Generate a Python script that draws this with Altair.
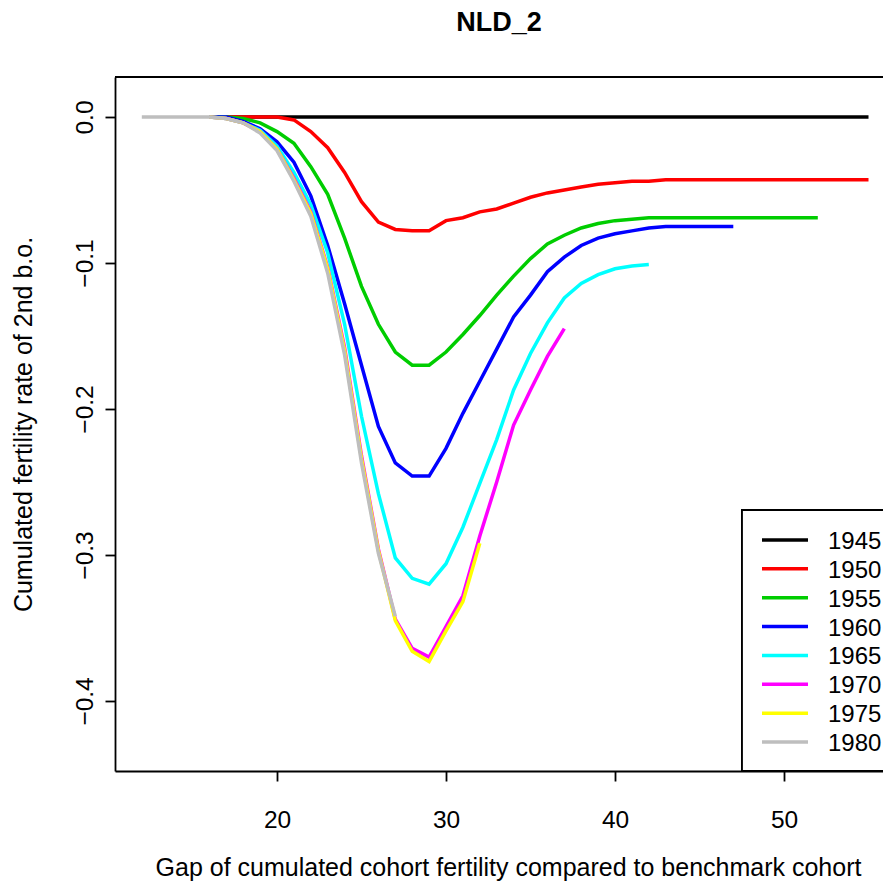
import altair as alt
import pandas as pd

FONT = "Liberation Sans"

cohorts = ["1945", "1950", "1955", "1960", "1965", "1970", "1975", "1980"]
colors = ["#000000", "#FF0000", "#00CD00", "#0000FF", "#00FFFF", "#FF00FF", "#FFFF00", "#BEBEBE"]

ages_1945 = list(range(17, 56))
vals_1945 = [0.0] * 39

ages_1950 = list(range(17, 56))
vals_1950 = [0.0, 0.0, 0.0, 0.0, -0.002, -0.010, -0.021, -0.038, -0.058, -0.072,
             -0.077, -0.078, -0.078, -0.071, -0.069, -0.065, -0.063, -0.059, -0.055, -0.052,
             -0.050, -0.048, -0.046, -0.045, -0.044, -0.044,
             -0.043, -0.043, -0.043, -0.043, -0.043, -0.043, -0.043, -0.043, -0.043, -0.043,
             -0.043, -0.043, -0.043]

ages_1955 = list(range(16, 53))
vals_1955 = [0.0, 0.0, -0.001, -0.004, -0.010, -0.018, -0.034, -0.053, -0.083, -0.116,
             -0.142, -0.161, -0.170, -0.170, -0.161, -0.149, -0.136, -0.122, -0.109, -0.097,
             -0.087, -0.081, -0.076, -0.073, -0.071, -0.070,
             -0.069, -0.069, -0.069, -0.069, -0.069, -0.069, -0.069, -0.069, -0.069, -0.069,
             -0.069]

ages_1960 = list(range(16, 48))
vals_1960 = [0.0, 0.0, -0.003, -0.008, -0.017, -0.031, -0.054, -0.088, -0.128, -0.170,
             -0.212, -0.237, -0.246, -0.246, -0.227, -0.203, -0.181, -0.159, -0.137, -0.122,
             -0.106, -0.096, -0.088, -0.083, -0.080, -0.078, -0.076, -0.075, -0.075, -0.075,
             -0.075, -0.075]

ages_1965 = list(range(16, 43))
vals_1965 = [0.0, -0.001, -0.004, -0.009, -0.020, -0.038, -0.060, -0.093, -0.142, -0.205,
             -0.258, -0.302, -0.316, -0.320, -0.306, -0.281, -0.251, -0.221, -0.187, -0.162,
             -0.141, -0.124, -0.114, -0.108, -0.104, -0.102, -0.101]

ages_1970 = list(range(16, 38))
vals_1970 = [0.0, -0.001, -0.004, -0.010, -0.022, -0.042, -0.065, -0.103, -0.158, -0.232,
             -0.296, -0.344, -0.364, -0.370, -0.349, -0.328, -0.287, -0.250, -0.211, -0.187,
             -0.164, -0.145]

ages_1975 = list(range(16, 33))
vals_1975 = [0.0, -0.001, -0.004, -0.010, -0.022, -0.043, -0.066, -0.104, -0.160, -0.234,
             -0.297, -0.345, -0.366, -0.373, -0.352, -0.332, -0.292]

ages_1980 = list(range(12, 28))
vals_1980 = [0.0, 0.0, 0.0, 0.0, 0.0, -0.001, -0.004, -0.011, -0.023, -0.044,
             -0.068, -0.107, -0.163, -0.237, -0.299, -0.342]

x_ticks = [20, 30, 40, 50]
y_ticks = [0.0, -0.1, -0.2, -0.3, -0.4]

series = [
    ("1945", ages_1945, vals_1945), ("1950", ages_1950, vals_1950),
    ("1955", ages_1955, vals_1955), ("1960", ages_1960, vals_1960),
    ("1965", ages_1965, vals_1965), ("1970", ages_1970, vals_1970),
    ("1975", ages_1975, vals_1975), ("1980", ages_1980, vals_1980),
]
rows = []
for name, ages, vals in series:
    for a, v in zip(ages, vals):
        rows.append({"cohort": name, "age": a, "value": v})
df = pd.DataFrame(rows)
legend_df = pd.DataFrame({"cohort": cohorts, "color": colors})

W, H = 768, 694

X = alt.X("age:Q",
          scale=alt.Scale(domain=[10.414, 10.414 + W / 16.9], nice=False, zero=False),
          axis=alt.Axis(values=x_ticks, format="d",
                        title="Gap of cumulated cohort fertility compared to benchmark cohort",
                        labelBaseline="alphabetic", labelPadding=46,
                        titleX=393, titleY=104, titleBaseline="alphabetic",
                        titleAlign="center", titleAnchor="middle"))
Y = alt.Y("value:Q",
          scale=alt.Scale(domain=[-0.448, 0.0274], nice=False, zero=False),
          axis=alt.Axis(values=y_ticks, format=".1f",
                        title="Cumulated fertility rate of 2nd b.o.",
                        labelAngle=270, labelAlign="center", labelBaseline="alphabetic",
                        labelPadding=13,
                        titleAngle=270, titleX=-84, titleY=347, titleBaseline="alphabetic",
                        titleAlign="center", titleAnchor="middle"))

layers = []
for name, col in zip(cohorts, colors):
    layers.append(
        alt.Chart(df).transform_filter(alt.datum.cohort == name)
        .mark_line(color=col, strokeWidth=3.5, clip=True)
        .encode(x=X, y=Y)
    )

top_rule = alt.Chart(legend_df).mark_rule(color="black", strokeWidth=1.8).encode(
    x=alt.value(0), x2=alt.value(W), y=alt.value(0))

legend_box = alt.Chart(legend_df).mark_rect(
    fill="white", stroke="black", strokeWidth=1.8, clip=True
).encode(x=alt.value(627), x2=alt.value(W + 20), y=alt.value(433), y2=alt.value(694))

LY = alt.Y("cohort:N", scale=alt.Scale(type="point", domain=cohorts, range=[463, 665], padding=0),
           axis=None)

legend_lines = alt.Chart(legend_df).mark_rule(strokeWidth=3.5).encode(
    x=alt.value(647), x2=alt.value(693), y=LY,
    color=alt.Color("cohort:N", scale=alt.Scale(domain=cohorts, range=colors), legend=None))

legend_text = alt.Chart(legend_df).mark_text(
    align="left", baseline="middle", fontSize=24, font=FONT, color="black", dy=2
).encode(x=alt.value(713), y=LY, text="cohort:N")

plot_layer = alt.layer(*layers, top_rule, legend_box)
legend_layer = alt.layer(legend_lines, legend_text)

chart = alt.layer(plot_layer, legend_layer).resolve_scale(
    y="independent"
).properties(
    width=W, height=H,
    title=alt.TitleParams("NLD_2", font=FONT, fontSize=27, fontWeight="bold",
                          anchor="middle", frame="group", baseline="alphabetic", offset=18,
                          color="black"),
    autosize="none",
    padding={"left": 107, "top": 69, "right": 0, "bottom": 110},
    background="white",
).configure_view(stroke=None).configure_axis(
    grid=False, domainColor="black", domainWidth=1.8, tickColor="black", tickWidth=1.8,
    tickSize=10, labelColor="black", titleColor="black", labelFont=FONT, titleFont=FONT,
    labelFontSize=24.5, titleFontSize=25, titleFontWeight="normal", labelOverlap=False,
)

chart.save("out.html", embed_options={"renderer": "svg", "actions": False})
